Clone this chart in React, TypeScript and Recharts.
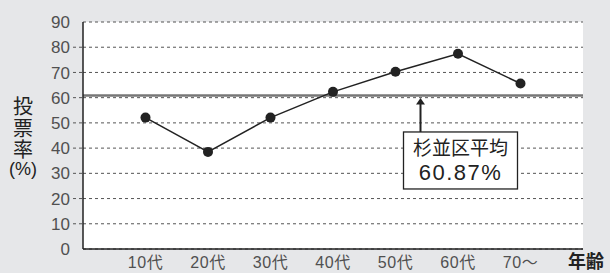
import React from 'react';
import { LineChart, Line, XAxis, YAxis, CartesianGrid, ReferenceLine, Label } from 'recharts';

const categories = ['10代', '20代', '30代', '40代', '50代', '60代', '70〜'];
const turnout = [52.1, 38.5, 52.1, 62.3, 70.3, 77.4, 65.6];
const yTicks = [0, 10, 20, 30, 40, 50, 60, 70, 80, 90];
const averageRate = 60.87;
const averageName = '杉並区平均';
const averageText = '60.87%';
const yLabelLines = ['投', '票', '率', '(%)'];
const xTitle = '年齢';

const data = categories.map((c, i) => ({ age: c, rate: turnout[i] }));

const FONT = "'Liberation Sans', 'Noto Sans CJK JP', sans-serif";

const YTick = (props: any) => {
  const { x, y, payload } = props;
  const v = payload.value;
  return (
    <g>
      <text x={x - 1} y={y} dy="0.36em" textAnchor="end" fontSize={17} fill="#505050">{v}</text>
      {v > 0 && v < 90 && (
        <line x1={x + 2} x2={x + 12} y1={y} y2={y} stroke="#555" strokeDasharray="3 3" />
      )}
    </g>
  );
};

const XTick = (props: any) => {
  const { x, y, payload } = props;
  return (
    <text x={x} y={y} dy="0.71em" textAnchor="middle" fontSize={16} letterSpacing={0.5} fill="#505050">{payload.value}</text>
  );
};

const YTitle = (props: any) => {
  const vb = props.viewBox || { x: 0, y: 22, width: 83, height: 227 };
  const cy = vb.y + vb.height / 2;
  const offs = [-28.5, -7, 14.5, 33.5];
  return (
    <g>
      {yLabelLines.map((t, i) => (
        <text key={i} x={23} y={cy + offs[i]} dy="0.36em" textAnchor="middle" fontSize={i < 3 ? 20 : 18} fill="#222">{t}</text>
      ))}
    </g>
  );
};

const XTitle = (props: any) => {
  const vb = props.viewBox || { x: 83, y: 249, width: 500, height: 24 };
  return (
    <text x={vb.x + vb.width + 3} y={vb.y + 13} dy="0.36em" textAnchor="middle" fontSize={18} fontWeight="bold" fill="#222">{xTitle}</text>
  );
};

const AvgLabel = (props: any) => {
  const vb = props.viewBox;
  if (!vb) return null;
  const ax = vb.x + vb.width * 0.675;
  const ly = vb.y;
  const boxTop = ly + 36.5;
  const bx = ax - 17;
  const bw = 114;
  const bh = 57;
  return (
    <g>
      <line x1={ax} x2={ax} y1={ly + 8} y2={boxTop} stroke="#222" strokeWidth={2} />
      <polygon points={`${ax},${ly + 2.5} ${ax - 4.5},${ly + 9} ${ax + 4.5},${ly + 9}`} fill="#222" />
      <rect x={bx} y={boxTop} width={bw} height={bh} fill="#fff" stroke="#222" strokeWidth={1.3} />
      <text x={bx + bw / 2} y={boxTop + 16.5} dy="0.36em" textAnchor="middle" fontSize={19} fill="#222">{averageName}</text>
      <text x={bx + bw / 2} y={boxTop + 40.5} dy="0.36em" textAnchor="middle" fontSize={22} letterSpacing={1.5} fill="#222">{averageText}</text>
    </g>
  );
};

export default function App() {
  return (
    <div style={{ position: 'fixed', top: 0, left: 0, width: 610, height: 273, background: '#e6e7e9', fontFamily: FONT }}>
      <LineChart width={610} height={273} data={data} margin={{ top: 22, right: 27, bottom: 0, left: 0 }}>
        <CartesianGrid horizontal vertical={false} stroke="#555" strokeDasharray="3 3" fill="#fff" />
        <XAxis
          dataKey="age"
          scale="point"
          padding={{ left: 62.5, right: 62.5 }}
          height={24}
          tickLine={false}
          tickSize={0}
          tickMargin={8}
          axisLine={{ stroke: '#222', strokeWidth: 1.5 }}
          tick={<XTick />}
          interval={0}
        >
          <Label content={<XTitle />} />
        </XAxis>
        <XAxis xAxisId="top" orientation="top" dataKey="age" height={0} tick={false} tickLine={false} axisLine={{ stroke: '#222', strokeWidth: 1.5 }} />
        <YAxis
          domain={[0, 90]}
          ticks={yTicks}
          width={83}
          tickSize={10}
          tickMargin={2}
          tickLine={false}
          axisLine={{ stroke: '#222', strokeWidth: 1.5 }}
          tick={<YTick />}
          interval={0}
        >
          <Label content={<YTitle />} />
        </YAxis>
        <YAxis yAxisId="right" orientation="right" width={0} domain={[0, 90]} tick={false} tickLine={false} axisLine={{ stroke: '#222', strokeWidth: 1.5 }} />
        <ReferenceLine y={averageRate} stroke="#777" strokeWidth={2.5} label={<AvgLabel />} />
        <Line
          dataKey="rate"
          stroke="#222"
          strokeWidth={1.5}
          dot={{ r: 5, fill: '#222', stroke: '#222', strokeWidth: 0 }}
          activeDot={false}
          isAnimationActive={false}
        />
      </LineChart>
    </div>
  );
}
